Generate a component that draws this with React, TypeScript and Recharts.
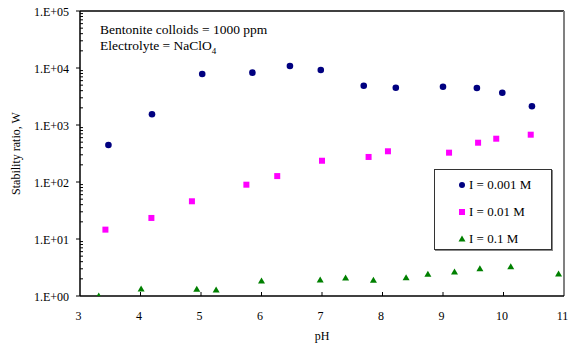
import React from 'react';
import {
  ScatterChart,
  Scatter,
  XAxis,
  YAxis,
  ReferenceLine,
  Legend,
} from 'recharts';

// I = 0.001 M
const phLow = [3.47, 4.19, 5.02, 5.85, 6.47, 6.98, 7.69, 8.22, 9.0, 9.56, 9.98, 10.47];
const wLow = [446, 1540, 7850, 8280, 10840, 9220, 4890, 4510, 4700, 4460, 3690, 2130];

// I = 0.01 M
const phMid = [3.42, 4.18, 4.85, 5.75, 6.26, 7.0, 7.77, 8.09, 9.1, 9.58, 9.88, 10.45];
const wMid = [14.6, 23.4, 45.9, 89.7, 127, 236, 275, 346, 327, 489, 575, 676];

// I = 0.1 M
const phHigh = [3.31, 4.01, 4.93, 5.25, 6.0, 6.97, 7.39, 7.85, 8.39, 8.75, 9.19, 9.61, 10.12, 10.91];
const wHigh = [1.0, 1.33, 1.31, 1.27, 1.83, 1.91, 2.07, 1.89, 2.1, 2.4, 2.64, 3.01, 3.27, 2.43];

const seriesNames = ['I = 0.001 M', 'I = 0.01 M', 'I = 0.1 M'];
const seriesColors = ['#000080', '#FF00FF', '#008000'];

const xTicks = [3, 4, 5, 6, 7, 8, 9, 10, 11];
const yMajorTicks = [1, 10, 100, 1000, 10000, 100000];
const yMajorLabels = ['1.E+00', '1.E+01', '1.E+02', '1.E+03', '1.E+04', '1.E+05'];
const yMinorSteps = [2, 3, 4, 5, 6, 7, 8, 9];

const yTicks: number[] = [];
yMajorTicks.forEach((m, i) => {
  yTicks.push(m);
  if (i < yMajorTicks.length - 1) yMinorSteps.forEach((s) => yTicks.push(m * s));
});

const toPoints = (xs: number[], ys: number[]) => xs.map((x, i) => ({ x, y: ys[i] }));

const FONT = '"Liberation Serif", "Times New Roman", serif';
const TICK_SIZE = 4;
const Y_TICK_MARGIN = 7;
const X_TICK_MARGIN = 4;

const YTick = (props: any) => {
  const { x, y, payload } = props;
  const axisX = x + TICK_SIZE + Y_TICK_MARGIN;
  const idx = yMajorTicks.findIndex((m) => Math.abs(m - payload.value) < 1e-6);
  if (idx < 0) {
    return <line x1={axisX} x2={axisX + 3} y1={y} y2={y} stroke="#000" strokeWidth={1} />;
  }
  return (
    <g>
      <line x1={axisX - 4} x2={axisX} y1={y} y2={y} stroke="#000" strokeWidth={1} />
      <text x={x} y={y} dy="0.45em" textAnchor="end" fontSize={12} fontFamily={FONT} fill="#000">
        {yMajorLabels[idx]}
      </text>
    </g>
  );
};

const XTick = (props: any) => {
  const { x, y, payload } = props;
  const axisY = y - TICK_SIZE - X_TICK_MARGIN;
  return (
    <g>
      {payload.value !== 3 && payload.value !== 11 && (
        <line x1={x} x2={x} y1={axisY} y2={axisY - 4} stroke="#000" strokeWidth={1} />
      )}
      <text x={x - 1.5} y={axisY + 24} textAnchor="middle" fontSize={12} fontFamily={FONT} fill="#000">
        {payload.value}
      </text>
    </g>
  );
};

const Dot = (props: any) => <circle cx={props.cx} cy={props.cy} r={3.3} fill={seriesColors[0]} />;
const Square = (props: any) => (
  <rect x={props.cx - 3} y={props.cy - 3} width={6} height={6} fill={seriesColors[1]} />
);
const Tri = (props: any) => (
  <polygon
    points={`${props.cx},${props.cy - 3.5} ${props.cx + 3.5},${props.cy + 2.5} ${props.cx - 3.5},${props.cy + 2.5}`}
    fill={seriesColors[2]}
  />
);

const legendIcon = (i: number) => {
  if (i === 0) return <circle cx={4} cy={4} r={3} fill={seriesColors[0]} />;
  if (i === 1) return <rect x={1} y={1} width={6} height={6} fill={seriesColors[1]} />;
  return <polygon points="4,0.5 7.5,6.5 0.5,6.5" fill={seriesColors[2]} />;
};

const LegendBox = () => (
  <div
    style={{
      border: '1px solid #333',
      boxShadow: '1px 1px 0 #888',
      background: '#fff',
      width: 118,
      height: 81,
      boxSizing: 'border-box',
      padding: '1px 0 0 23px',
      fontFamily: FONT,
      fontSize: 13,
      lineHeight: '15px',
    }}
  >
    {seriesNames.map((n, i) => (
      <div key={n} style={{ height: 27, display: 'flex', alignItems: 'center' }}>
        <svg width={8} height={8} style={{ marginRight: 3, display: 'block' }}>
          {legendIcon(i)}
        </svg>
        <span>{n}</span>
      </div>
    ))}
  </div>
);

export default function App() {
  return (
    <div style={{ position: 'relative', width: 572, height: 347 }}>
      <style>{'body { margin: 0; }'}</style>
      <ScatterChart width={572} height={347} margin={{ top: 11, right: 8, left: 0, bottom: 3 }}>
        <XAxis
          type="number"
          dataKey="x"
          domain={[3, 11]}
          ticks={xTicks}
          interval={0}
          tickSize={TICK_SIZE}
          tickMargin={X_TICK_MARGIN}
          tickLine={false}
          tick={XTick}
          height={48}
          axisLine={{ stroke: '#000', strokeWidth: 1.5 }}
          label={{ value: 'pH', position: 'insideBottom', offset: 4, fontSize: 12, fontFamily: FONT, fill: '#000' }}
        />
        <YAxis
          type="number"
          dataKey="y"
          scale="log"
          domain={[1, 100000]}
          ticks={yTicks}
          interval={0}
          allowDataOverflow
          tickSize={TICK_SIZE}
          tickMargin={Y_TICK_MARGIN}
          tickLine={false}
          tick={YTick}
          width={80}
          axisLine={{ stroke: '#000', strokeWidth: 1.5 }}
          label={{
            value: 'Stability ratio, W',
            angle: -90,
            position: 'insideLeft',
            offset: 16,
            fontSize: 12,
            fontFamily: FONT,
            fill: '#000',
            style: { textAnchor: 'middle' },
          }}
        />
        <ReferenceLine y={100000} stroke="#000" strokeWidth={1.5} />
        <ReferenceLine x={11} stroke="#808080" strokeWidth={2} />
        <Scatter name={seriesNames[0]} data={toPoints(phLow, wLow)} shape={Dot} isAnimationActive={false} />
        <Scatter name={seriesNames[1]} data={toPoints(phMid, wMid)} shape={Square} isAnimationActive={false} />
        <Scatter name={seriesNames[2]} data={toPoints(phHigh, wHigh)} shape={Tri} isAnimationActive={false} />
        <Legend
          layout="vertical"
          align="center"
          verticalAlign="middle"
          content={LegendBox}
          wrapperStyle={{ position: 'absolute', left: 434, top: 169, width: 118 }}
        />
      </ScatterChart>
      <div
        style={{
          position: 'absolute',
          left: 100,
          top: 22,
          fontFamily: FONT,
          fontSize: 13.5,
          lineHeight: '16px',
          color: '#000',
          whiteSpace: 'nowrap',
        }}
      >
        <div>Bentonite colloids = 1000 ppm</div>
        <div>
          Electrolyte = NaClO<sub style={{ fontSize: 9, lineHeight: 0 }}>4</sub>
        </div>
      </div>
    </div>
  );
}
